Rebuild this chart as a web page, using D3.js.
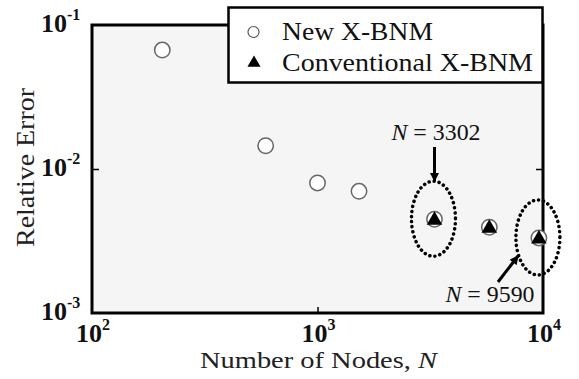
<!DOCTYPE html>
<html><head><meta charset="utf-8">
<script src="https://cdn.jsdelivr.net/npm/d3@7"></script>
<style>body{margin:0;background:#fff}svg{display:block}</style>
</head><body>
<script>
const nodesNew = [205, 589, 1000, 1528, 3302, 5780, 9590];
const errNew = [0.067, 0.0145, 0.0080, 0.0070, 0.00448, 0.00394, 0.00332];
const nodesConv = [3302, 5780, 9590];
const errConv = [0.00452, 0.00397, 0.00335];
const xTicks = [100, 1000, 10000];
const xTickExp = ["2", "3", "4"];
const yTicks = [0.1, 0.01, 0.001];
const yTickExp = ["-1", "-2", "-3"];
const seriesNames = ["New X-BNM", "Conventional X-BNM"];
const annotated = [3302, 9590];

const W = 579, H = 379;
const m = {l: 92, r: 36, t: 25, b: 66};
const svg = d3.select("body").append("svg").attr("width", W).attr("height", H);
const font = "'Liberation Serif','Times New Roman',serif";

const x = d3.scaleLog().domain([100, 10000]).range([m.l, W - m.r]);
const y = d3.scaleLog().domain([0.001, 0.1]).range([H - m.b, m.t]);

// plot background
svg.append("rect").attr("x", m.l).attr("y", m.t).attr("width", x(10000) - m.l).attr("height", y(0.001) - m.t)
  .attr("fill", "#f5f5f5");

// ticks (inward)
const g = svg.append("g");
g.append("g").attr("transform", `translate(0,${y(0.001)})`)
  .call(d3.axisBottom(x).tickValues([1000]).tickSize(-6).tickFormat(""))
  .call(s => s.select(".domain").remove()).selectAll("line").attr("stroke", "#000").attr("stroke-width", 1.5);
g.append("g").attr("transform", `translate(${m.l},0)`)
  .call(d3.axisLeft(y).tickValues([0.01]).tickSize(-7).tickFormat(""))
  .call(s => s.select(".domain").remove()).selectAll("line").attr("stroke", "#000").attr("stroke-width", 1.5);
g.append("g").attr("transform", `translate(${x(10000)},0)`)
  .call(d3.axisRight(y).tickValues([0.01]).tickSize(-7).tickFormat(""))
  .call(s => s.select(".domain").remove()).selectAll("line").attr("stroke", "#000").attr("stroke-width", 1.5);

// frame
svg.append("rect").attr("x", m.l).attr("y", m.t).attr("width", x(10000) - m.l).attr("height", y(0.001) - m.t)
  .attr("fill", "none").attr("stroke", "#000").attr("stroke-width", 3);

// tick labels
function powLabel(px, py, exp) {
  const t = svg.append("text").attr("x", px).attr("y", py)
    .attr("font-family", font).attr("font-weight", "bold").attr("font-size", 26).attr("fill", "#111");
  t.append("tspan").text("10");
  t.append("tspan").attr("dy", -12).attr("font-size", 16).text(exp);
}
xTicks.forEach((v, i) => powLabel(x(v) - 16, 342, xTickExp[i]));
yTicks.forEach((v, i) => powLabel(41, y(v) + 7, yTickExp[i]));

// axis titles
const xt = svg.append("text").attr("x", 318.5).attr("y", 368).attr("text-anchor", "middle")
  .attr("font-family", font).attr("font-size", 24).attr("fill", "#222")
  .attr("textLength", 237).attr("lengthAdjust", "spacingAndGlyphs");
xt.append("tspan").text("Number of Nodes, ");
xt.append("tspan").attr("font-style", "italic").text("N");
svg.append("text").attr("transform", `translate(34,${(m.t + y(0.001)) / 2 - 1.5}) rotate(-90)`)
  .attr("text-anchor", "middle").attr("font-family", font).attr("font-size", 25).attr("fill", "#222")
  .attr("textLength", 159).attr("lengthAdjust", "spacingAndGlyphs")
  .text("Relative Error");

// data: circles
svg.append("g").selectAll("circle").data(nodesNew).join("circle")
  .attr("cx", d => x(d)).attr("cy", (d, i) => y(errNew[i])).attr("r", 7.7)
  .attr("fill", "#fff").attr("stroke", "#666").attr("stroke-width", 1.5);
// triangles
const tri = d3.symbol().type(d3.symbolTriangle).size(105);
svg.append("g").selectAll("path").data(nodesConv).join("path")
  .attr("d", tri).attr("transform", (d, i) => `translate(${x(d)},${y(errConv[i]) + 1.5})`)
  .attr("fill", "#000");

// dotted ellipses
svg.append("g").selectAll("ellipse").data(annotated).join("ellipse")
  .attr("cx", d => x(d) - 1).attr("cy", d => y(errNew[nodesNew.indexOf(d)]) - 0.5)
  .attr("rx", 22).attr("ry", 37.5)
  .attr("fill", "none").attr("stroke", "#000").attr("stroke-width", 3.5)
  .attr("stroke-dasharray", "0.1 5").attr("stroke-linecap", "round");

// arrows
const defs = svg.append("defs");
defs.append("marker").attr("id", "ah").attr("viewBox", "0 0 10 10").attr("refX", 9).attr("refY", 5)
  .attr("markerWidth", 3.4).attr("markerHeight", 3).attr("orient", "auto")
  .append("path").attr("d", "M0,0L10,5L0,10z").attr("fill", "#000");
const a1x = x(3302);
svg.append("line").attr("x1", a1x).attr("y1", 147).attr("x2", a1x).attr("y2", 181)
  .attr("stroke", "#000").attr("stroke-width", 3).attr("marker-end", "url(#ah)");
svg.append("line").attr("x1", 498).attr("y1", 282).attr("x2", 518).attr("y2", 256)
  .attr("stroke", "#000").attr("stroke-width", 3).attr("marker-end", "url(#ah)");

function nLabel(px, py, val) {
  const t = svg.append("text").attr("x", px).attr("y", py).attr("text-anchor", "middle")
    .attr("font-family", font).attr("font-size", 23).attr("fill", "#111")
    .attr("textLength", 89).attr("lengthAdjust", "spacingAndGlyphs");
  t.append("tspan").attr("font-style", "italic").text("N");
  t.append("tspan").text(" = " + val);
}
nLabel(436, 140, annotated[0]);
nLabel(490, 302, annotated[1]);

// legend
const lg = svg.append("g");
lg.append("rect").attr("x", 228.5).attr("y", 7.5).attr("width", 314).attr("height", 75)
  .attr("fill", "#fff").attr("stroke", "#000").attr("stroke-width", 2.5);
lg.append("circle").attr("cx", 253.5).attr("cy", 32).attr("r", 5.5).attr("fill", "#fff").attr("stroke", "#555").attr("stroke-width", 1.2);
lg.append("path").attr("d", d3.symbol().type(d3.symbolTriangle).size(75)).attr("transform", "translate(254,63)").attr("fill", "#000");
const legLen = [151, 251];
seriesNames.forEach((s, i) => lg.append("text").attr("x", 282).attr("y", 40 + i * 30.5)
  .attr("font-family", font).attr("font-size", 25).attr("fill", "#111")
  .attr("textLength", legLen[i]).attr("lengthAdjust", "spacingAndGlyphs").text(s));
</script>
</body></html>
